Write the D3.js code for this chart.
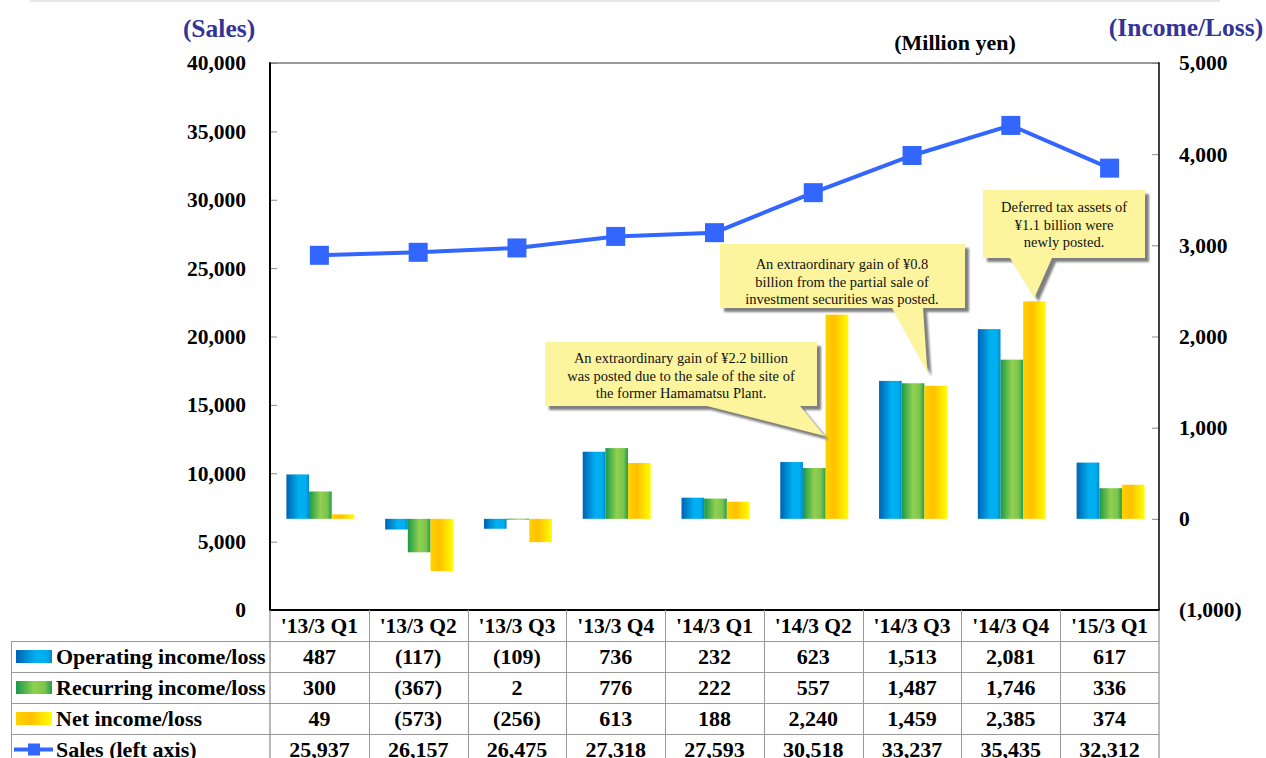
<!DOCTYPE html>
<html>
<head>
<meta charset="utf-8">
<script src="https://cdn.jsdelivr.net/npm/d3@7"></script>
<style>
  html, body { margin: 0; padding: 0; background: #fff; }
  svg { display: block; font-family: "Liberation Serif", "Times New Roman", serif; }
</style>
</head>
<body>
<svg id="chart" width="1266" height="758"></svg>
<script>
// Quarterly results (million yen)
const categories = ["'13/3 Q1", "'13/3 Q2", "'13/3 Q3", "'13/3 Q4", "'14/3 Q1", "'14/3 Q2", "'14/3 Q3", "'14/3 Q4", "'15/3 Q1"];
const operatingIncome = [487, -117, -109, 736, 232, 623, 1513, 2081, 617];
const recurringIncome = [300, -367, 2, 776, 222, 557, 1487, 1746, 336];
const netIncome = [49, -573, -256, 613, 188, 2240, 1459, 2385, 374];
const sales = [25937, 26157, 26475, 27318, 27593, 30518, 33237, 35435, 32312];

const seriesNames = ["Operating income/loss", "Recurring income/loss", "Net income/loss"];
const salesName = "Sales (left axis)";
const leftTicks = [0, 5000, 10000, 15000, 20000, 25000, 30000, 35000, 40000];
const rightTicks = [-1000, 0, 1000, 2000, 3000, 4000, 5000];

const notes = [
  { lines: ["An extraordinary gain of ¥2.2 billion", "was posted due to the sale of the site of", "the former Hamamatsu Plant."] },
  { lines: ["An extraordinary gain of ¥0.8", "billion from the partial sale of", "investment securities was posted."] },
  { lines: ["Deferred tax assets of", "¥1.1 billion were", "newly posted."] }
];

// ---- layout ----
const L = 270, R = 1159, T = 63, B = 610;
const rowTops = [610, 641, 672, 703, 734, 765];
const FONT = "'Liberation Serif', 'Times New Roman', serif";

const svg = d3.select("#chart");
const defs = svg.append("defs");

// horizontal gradients for the bar fills
const gradStops = {
  gOp:  [[0, "#0063b4"], [0.55, "#00b0f0"], [0.85, "#00aeef"], [1, "#0086d2"]],
  gRec: [[0, "#17994a"], [0.5, "#92d050"], [0.8, "#7cc44e"], [1, "#1f9e4c"]],
  gNet: [[0, "#ffd200"], [0.4, "#ffc000"], [1, "#ffff00"]]
};
Object.entries(gradStops).forEach(([id, stops]) => {
  const g = defs.append("linearGradient").attr("id", id)
    .attr("x1", 0).attr("x2", 1).attr("y1", 0).attr("y2", 0);
  stops.forEach(([o, c]) => g.append("stop").attr("offset", o).attr("stop-color", c));
});
const seriesFill = ["url(#gOp)", "url(#gRec)", "url(#gNet)"];
const salesColor = "#3366ff";

const shadow = defs.append("filter").attr("id", "soft").attr("x", "-10%").attr("y", "-10%").attr("width", "130%").attr("height", "130%");
shadow.append("feGaussianBlur").attr("stdDeviation", 0.8);

// faint rule along the top edge
svg.append("line").attr("x1", 30).attr("x2", 1220).attr("y1", 1).attr("y2", 1)
  .attr("stroke", "#e6e6e6").attr("stroke-width", 2);

// ---- scales ----
const x = d3.scaleBand().domain(categories).range([L, R]).padding(0);
const groupW = 68;
const xs = d3.scaleBand().domain(d3.range(3)).range([0, groupW]).padding(0);
const yL = d3.scaleLinear().domain([0, 40000]).range([B, T]);
const yR = d3.scaleLinear().domain([-1000, 5000]).range([B, T]);

const barSeries = [operatingIncome, recurringIncome, netIncome];
const barLeft = (ci, si) => x(categories[ci]) + (x.bandwidth() - groupW) / 2 + 1 + xs(si);

// ---- axes ----
const leftAxis = d3.axisLeft(yL).tickValues(leftTicks).tickFormat(d3.format(","))
  .tickSizeInner(-7).tickSizeOuter(0).tickPadding(24);
const gL = svg.append("g").attr("transform", `translate(${L},0)`).call(leftAxis);
gL.select(".domain").remove();
gL.selectAll(".tick line").attr("stroke", "#8a8a8a");
gL.selectAll(".tick text").attr("font-family", FONT).attr("font-size", 21.5).attr("font-weight", "bold").attr("fill", "#000");

const fmtSigned = v => v < 0 ? `(${d3.format(",")(-v)})` : d3.format(",")(v);
const rightAxis = d3.axisRight(yR).tickValues(rightTicks).tickFormat(fmtSigned)
  .tickSizeInner(-7).tickSizeOuter(0).tickPadding(20);
const gR = svg.append("g").attr("transform", `translate(${R},0)`).call(rightAxis);
gR.select(".domain").remove();
gR.selectAll(".tick line").attr("stroke", "#8a8a8a");
gR.selectAll(".tick text").attr("font-family", FONT).attr("font-size", 21.5).attr("font-weight", "bold").attr("fill", "#000");

// ---- bars ----
barSeries.forEach((vals, si) => {
  svg.append("g").selectAll("rect").data(vals).join("rect")
    .attr("x", (d, i) => barLeft(i, si))
    .attr("width", xs.bandwidth())
    .attr("y", d => Math.min(yR(d), yR(0)))
    .attr("height", d => Math.max(Math.abs(yR(d) - yR(0)), 1))
    .attr("fill", seriesFill[si]);
});

// ---- plot frame ----
svg.append("line").attr("x1", L).attr("x2", R).attr("y1", T).attr("y2", T).attr("stroke", "#7a7a7a").attr("stroke-width", 1.5);
svg.append("line").attr("x1", R).attr("x2", R).attr("y1", T - 0.75).attr("y2", B).attr("stroke", "#000").attr("stroke-width", 1.5);
svg.append("line").attr("x1", L).attr("x2", L).attr("y1", T - 0.75).attr("y2", B + 1).attr("stroke", "#000").attr("stroke-width", 2);
svg.append("line").attr("x1", L - 1).attr("x2", R + 0.75).attr("y1", B).attr("y2", B).attr("stroke", "#000").attr("stroke-width", 2);

// ---- sales line ----
const cx = i => x(categories[i]) + x.bandwidth() / 2;
svg.append("path").datum(sales)
  .attr("d", d3.line().x((d, i) => cx(i)).y(d => yL(d)))
  .attr("fill", "none").attr("stroke", salesColor).attr("stroke-width", 4);
const mk = 19;
svg.append("g").selectAll("rect").data(sales).join("rect")
  .attr("x", (d, i) => cx(i) - mk / 2).attr("y", d => yL(d) - mk / 2)
  .attr("width", mk).attr("height", mk).attr("fill", salesColor);

// ---- axis titles ----
svg.append("text").attr("x", 219).attr("y", 37).attr("text-anchor", "middle")
  .attr("font-family", FONT).attr("font-size", 25.5).attr("font-weight", "bold").attr("fill", "#333399").text("(Sales)");
svg.append("text").attr("x", 1186).attr("y", 36).attr("text-anchor", "middle")
  .attr("font-family", FONT).attr("font-size", 25.5).attr("font-weight", "bold").attr("fill", "#333399").text("(Income/Loss)");
svg.append("text").attr("x", 955).attr("y", 50).attr("text-anchor", "middle")
  .attr("font-family", FONT).attr("font-size", 22).attr("font-weight", "bold").attr("fill", "#000").text("(Million yen)");

// ---- callouts ----
const callouts = [
  { box: [545, 342, 817, 406], base: [707, 800], tip: [barLeft(5, 2) - 1, 436], text: notes[0].lines, cx: 681, y0: 363 },
  { box: [720, 244, 965, 308], base: [892, 923], tip: [barLeft(6, 2) + 3, 372], text: notes[1].lines, cx: 842, y0: 269 },
  { box: [983, 190, 1145, 258], base: [1010, 1052], tip: [barLeft(7, 2) + xs.bandwidth() / 2, yR(netIncome[7]) - 4], text: notes[2].lines, cx: 1064, y0: 212 }
];
const calloutPath = c => {
  const [x0, y0, x1, y1] = c.box;
  return `M${x0},${y0}H${x1}V${y1}H${c.base[1]}L${c.tip[0]},${c.tip[1]}L${c.base[0]},${y1}H${x0}Z`;
};
callouts.forEach(c => {
  svg.append("path").attr("d", calloutPath(c)).attr("transform", "translate(4,4)")
    .attr("fill", "#7f7f7f").attr("filter", "url(#soft)");
  svg.append("path").attr("d", calloutPath(c)).attr("fill", "#fcf59e");
  svg.append("text").attr("text-anchor", "middle").attr("font-family", FONT).attr("font-size", 14.5).attr("fill", "#111")
    .selectAll("tspan").data(c.text).join("tspan")
    .attr("x", c.cx).attr("y", (d, i) => c.y0 + i * 17.5).text(d => d);
});

// ---- data table ----
const grid = svg.append("g").attr("stroke", "#9a9a9a").attr("stroke-width", 1);
rowTops.slice(1, 5).forEach(y => grid.append("line").attr("x1", 11).attr("x2", R).attr("y1", y + 0.5).attr("y2", y + 0.5));
grid.append("line").attr("x1", 11.5).attr("x2", 11.5).attr("y1", rowTops[1]).attr("y2", 758);
categories.forEach((c, i) => {
  if (i === 0) return;
  const xx = Math.round(x(c)) + 0.5;
  grid.append("line").attr("x1", xx).attr("x2", xx).attr("y1", B).attr("y2", 758);
});
grid.append("line").attr("x1", R).attr("x2", R).attr("y1", B).attr("y2", 758).attr("stroke", "#777");
grid.append("line").attr("x1", L).attr("x2", L).attr("y1", B).attr("y2", 758).attr("stroke", "#777");

const rowMid = k => (rowTops[k] + rowTops[k + 1]) / 2;
const tableText = svg.append("g").attr("font-family", FONT).attr("font-weight", "bold").attr("fill", "#000");

// header row
tableText.selectAll("text.hdr").data(categories).join("text").attr("class", "hdr")
  .attr("font-size", 21.5)
  .attr("x", d => x(d) + x.bandwidth() / 2).attr("y", rowMid(0)).attr("dy", "0.35em")
  .attr("text-anchor", "middle").text(d => d);

// value rows
const rows = [
  { name: seriesNames[0], vals: operatingIncome },
  { name: seriesNames[1], vals: recurringIncome },
  { name: seriesNames[2], vals: netIncome },
  { name: salesName, vals: sales }
];
rows.forEach((r, k) => {
  const ym = rowMid(k + 1);
  tableText.append("text").attr("font-size", 22).attr("x", 56).attr("y", ym).attr("dy", "0.35em").text(r.name);
  tableText.append("g").attr("font-size", 22).selectAll("text").data(r.vals).join("text")
    .attr("x", (d, i) => cx(i)).attr("y", ym).attr("dy", "0.35em")
    .attr("text-anchor", "middle").text(d => fmtSigned(d));
  if (k < 3) {
    svg.append("rect").attr("x", 16).attr("y", ym - 6.5).attr("width", 36).attr("height", 13).attr("fill", seriesFill[k]);
  } else {
    svg.append("line").attr("x1", 14).attr("x2", 53).attr("y1", ym).attr("y2", ym).attr("stroke", salesColor).attr("stroke-width", 4);
    svg.append("rect").attr("x", 28).attr("y", ym - 6).attr("width", 12).attr("height", 12).attr("fill", salesColor);
  }
});
</script>
</body>
</html>
